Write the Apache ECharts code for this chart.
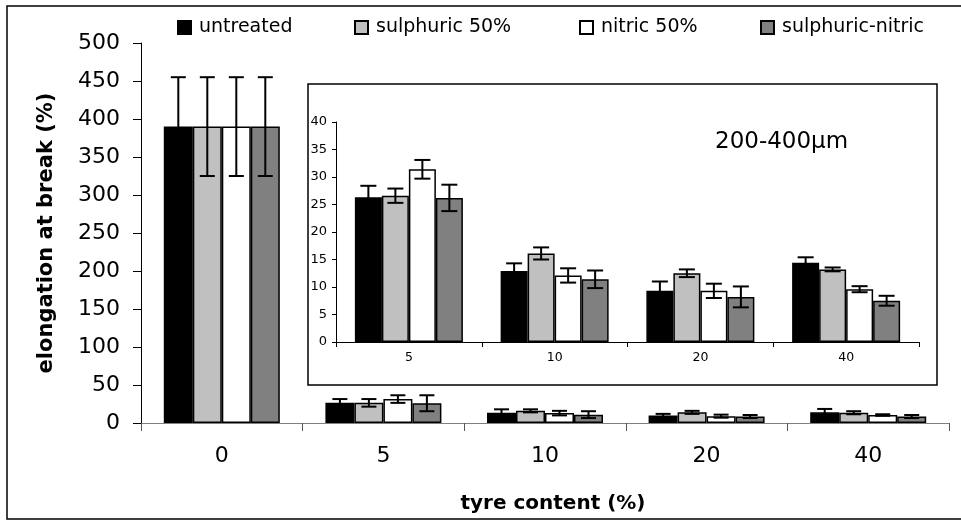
<!DOCTYPE html>
<html>
<head>
<meta charset="utf-8">
<script src="https://cdn.jsdelivr.net/npm/echarts@6/dist/echarts.min.js"></script>
<style>html,body{margin:0;padding:0;background:#fff}#c{width:961px;height:525px}</style>
</head>
<body>
<div id="c"></div>
<script>
// ---------- data ----------
const seriesNames = ['untreated', 'sulphuric 50%', 'nitric 50%', 'sulphuric-nitric'];
const seriesColors = ['#000000', '#c0c0c0', '#ffffff', '#808080'];

// main chart
const categories = ['0', '5', '10', '20', '40'];
const untreated = [390, 26.5, 13.5, 10, 14];
const sulphuric50 = [390, 26.5, 16, 14, 13.5];
const nitric50 = [390, 31.5, 13, 9, 10.5];
const sulphuricNitric = [390, 26, 11, 8.5, 8.5];
const untreatedErr = [65, 5, 4.5, 2, 4.5];
const sulphuric50Err = [65, 5, 2, 2, 2];
const nitric50Err = [65, 5, 3, 2, 1];
const sulphuricNitricErr = [65, 10.5, 4.5, 2, 2];
const yTicks = [0, 50, 100, 150, 200, 250, 300, 350, 400, 450, 500];

// inset chart (200-400 µm)
const insetCategories = ['5', '10', '20', '40'];
const insetUntreated = [26.3, 12.9, 9.3, 14.4];
const insetSulphuric50 = [26.6, 16.1, 12.5, 13.2];
const insetNitric50 = [31.4, 12.1, 9.3, 9.6];
const insetSulphuricNitric = [26.2, 11.4, 8.2, 7.5];
const insetUntreatedErr = [2.1, 1.4, 1.7, 1.0];
const insetSulphuric50Err = [1.3, 1.1, 0.7, 0.35];
const insetNitric50Err = [1.7, 1.3, 1.3, 0.55];
const insetSulphuricNitricErr = [2.4, 1.6, 1.9, 0.9];
const insetYTicks = [0, 5, 10, 15, 20, 25, 30, 35, 40];
const insetLabel = '200-400\u00b5m';

// ---------- build ----------
const FONT = 'DejaVu Sans';
const mainVals = [untreated, sulphuric50, nitric50, sulphuricNitric];
const mainErrs = [untreatedErr, sulphuric50Err, nitric50Err, sulphuricNitricErr];
const insetVals = [insetUntreated, insetSulphuric50, insetNitric50, insetSulphuricNitric];
const insetErrs = [insetUntreatedErr, insetSulphuric50Err, insetNitric50Err, insetSulphuricNitricErr];

const MAIN_BW = 29, INSET_BW = 27;

function errSeries(vals, errs, si, bw, cap, axisIdx) {
  return {
    type: 'custom',
    xAxisIndex: axisIdx, yAxisIndex: axisIdx,
    z: 10,
    silent: true,
    data: vals.map((v, i) => [i, v, errs[i]]),
    renderItem: function (params, api) {
      const ci = api.value(0), v = api.value(1), e = api.value(2);
      const c = api.coord([ci, v]);
      const x = c[0] + (si - 1.5) * bw;
      const yt = api.coord([ci, v + e])[1];
      const yb = api.coord([ci, v - e])[1];
      const st = { stroke: '#000', lineWidth: 2 };
      return {
        type: 'group',
        children: [
          { type: 'line', shape: { x1: x, y1: yt, x2: x, y2: yb }, style: st },
          { type: 'line', shape: { x1: x - cap / 2, y1: yt, x2: x + cap / 2, y2: yt }, style: st },
          { type: 'line', shape: { x1: x - cap / 2, y1: yb, x2: x + cap / 2, y2: yb }, style: st }
        ]
      };
    }
  };
}

const series = [];
seriesNames.forEach((n, si) => {
  series.push({
    name: n, type: 'bar', xAxisIndex: 0, yAxisIndex: 0,
    barWidth: MAIN_BW, barGap: '0%',
    itemStyle: { color: seriesColors[si], borderColor: '#000', borderWidth: 1.5 },
    data: mainVals[si]
  });
});
seriesNames.forEach((n, si) => {
  series.push({
    name: n, type: 'bar', xAxisIndex: 1, yAxisIndex: 1,
    barWidth: INSET_BW, barGap: '0%', z: 5,
    itemStyle: { color: seriesColors[si], borderColor: '#000', borderWidth: 1.5 },
    data: insetVals[si]
  });
});
seriesNames.forEach((n, si) => series.push(errSeries(mainVals[si], mainErrs[si], si, MAIN_BW, 15, 0)));
seriesNames.forEach((n, si) => series.push(errSeries(insetVals[si], insetErrs[si], si, INSET_BW, 16, 1)));

const legendLefts = [172, 349, 574, 755];
const legends = seriesNames.map((n, i) => ({
  data: [{ name: n, icon: 'rect' }], left: legendLefts[i], top: 13,
  itemWidth: 13, itemHeight: 13,
  selectedMode: false,
  textStyle: { fontFamily: FONT, fontSize: 19, color: '#000', padding: [0, 0, 0, 3] }
}));

const option = {
  animation: false,
  backgroundColor: '#fff',
  legend: legends,
  grid: [
    { left: 141, right: 12, top: 43, bottom: 102 },
    { left: 336, right: 42, top: 122, bottom: 183 }
  ],
  xAxis: [
    {
      type: 'category', data: categories, gridIndex: 0,
      name: 'tyre content (%)', nameLocation: 'middle', nameGap: 71,
      nameTextStyle: { fontFamily: FONT, fontSize: 20, fontWeight: 'bold', color: '#000', padding: [0, 0, 0, 16] },
      axisLine: { lineStyle: { color: '#808080', width: 1 } },
      axisTick: { show: true, length: 8, lineStyle: { color: '#555' } },
      axisLabel: { fontFamily: FONT, fontSize: 22, color: '#000', margin: 22 }
    },
    {
      type: 'category', data: insetCategories, gridIndex: 1,
      axisLine: { lineStyle: { color: '#000', width: 1 } },
      axisTick: { show: true, length: 5, lineStyle: { color: '#000' } },
      axisLabel: { fontFamily: FONT, fontSize: 12.5, color: '#000', margin: 9 }
    }
  ],
  yAxis: [
    {
      type: 'value', gridIndex: 0, min: yTicks[0], max: yTicks[yTicks.length - 1], interval: yTicks[1] - yTicks[0],
      name: 'elongation at break (%)', nameLocation: 'middle', nameGap: 84, nameRotate: 90,
      nameTextStyle: { fontFamily: FONT, fontSize: 21, fontWeight: 'bold', color: '#000' },
      axisLine: { show: true, lineStyle: { color: '#000', width: 1 } },
      axisTick: { show: true, length: 8, lineStyle: { color: '#000' } },
      splitLine: { show: false },
      axisLabel: { fontFamily: FONT, fontSize: 22, color: '#000', margin: 21 }
    },
    {
      type: 'value', gridIndex: 1, min: insetYTicks[0], max: insetYTicks[insetYTicks.length - 1], interval: insetYTicks[1] - insetYTicks[0],
      axisLine: { show: true, lineStyle: { color: '#000', width: 1 } },
      axisTick: { show: true, length: 4, lineStyle: { color: '#000' } },
      splitLine: { show: false },
      axisLabel: { fontFamily: FONT, fontSize: 13, color: '#000', margin: 9 }
    }
  ],
  graphic: [
    { type: 'rect', z: -10, silent: true, shape: { x: 7, y: 6, width: 960, height: 513 },
      style: { fill: 'none', stroke: '#000', lineWidth: 1.5 } },
    { type: 'rect', z: -5, silent: true, shape: { x: 308, y: 84, width: 629, height: 301 },
      style: { fill: '#fff', stroke: '#000', lineWidth: 1.5 } },
    { type: 'text', z: 20, silent: true, left: 715, top: 131,
      style: { text: insetLabel, font: '23px "DejaVu Sans"', fill: '#000' } }
  ],
  series: series
};

const chart = echarts.init(document.getElementById('c'), null, { renderer: 'canvas' });
chart.setOption(option);
</script>
</body>
</html>
